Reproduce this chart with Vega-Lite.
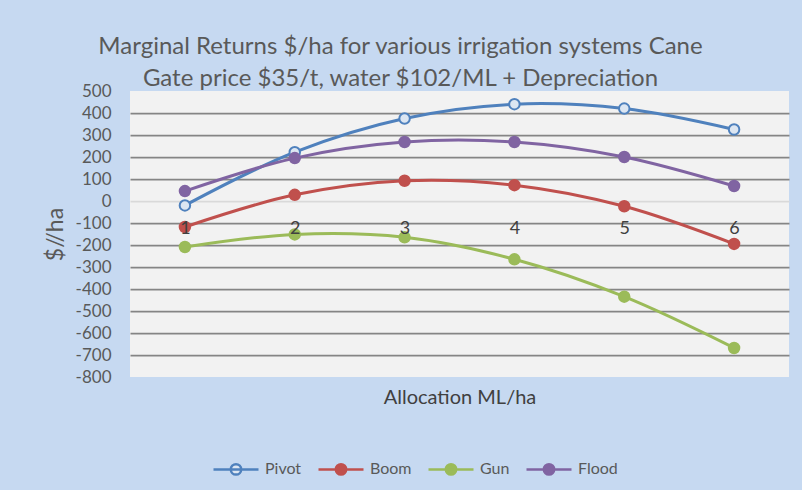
{
  "$schema": "https://vega.github.io/schema/vega-lite/v6.json",
  "width": 659,
  "height": 286,
  "autosize": {"type": "none"},
  "padding": {"left": 130, "top": 91, "right": 13, "bottom": 113},
  "background": "#C6D9F1",
  "title": {
    "text": ["Marginal Returns $/ha for various irrigation systems Cane", "Gate price $35/t, water $102/ML + Depreciation"],
    "fontSize": 24,
    "font": "Lato",
    "fontWeight": "normal",
    "color": "#595959",
    "anchor": "middle",
    "dx": -59,
    "offset": -9,
    "lineHeight": 32
  },
  "config": {
    "view": {"fill": "#F2F2F2", "stroke": null},
    "font": "Lato"
  },
  "data": {
    "values": [
      {"system": "Pivot", "alloc": "1", "value": -20},
      {"system": "Pivot", "alloc": "2", "value": 222},
      {"system": "Pivot", "alloc": "3", "value": 375},
      {"system": "Pivot", "alloc": "4", "value": 440},
      {"system": "Pivot", "alloc": "5", "value": 420},
      {"system": "Pivot", "alloc": "6", "value": 325},
      {"system": "Boom", "alloc": "1", "value": -118},
      {"system": "Boom", "alloc": "2", "value": 28},
      {"system": "Boom", "alloc": "3", "value": 92},
      {"system": "Boom", "alloc": "4", "value": 72},
      {"system": "Boom", "alloc": "5", "value": -24},
      {"system": "Boom", "alloc": "6", "value": -195},
      {"system": "Gun", "alloc": "1", "value": -209},
      {"system": "Gun", "alloc": "2", "value": -152},
      {"system": "Gun", "alloc": "3", "value": -165},
      {"system": "Gun", "alloc": "4", "value": -265},
      {"system": "Gun", "alloc": "5", "value": -435},
      {"system": "Gun", "alloc": "6", "value": -668},
      {"system": "Flood", "alloc": "1", "value": 45},
      {"system": "Flood", "alloc": "2", "value": 195},
      {"system": "Flood", "alloc": "3", "value": 268},
      {"system": "Flood", "alloc": "4", "value": 268},
      {"system": "Flood", "alloc": "5", "value": 200},
      {"system": "Flood", "alloc": "6", "value": 68}
    ]
  },
  "encoding": {
    "x": {
      "field": "alloc",
      "type": "ordinal",
      "scale": {"type": "point", "padding": 0.5},
      "axis": {
        "orient": "bottom",
        "offset": -176,
        "domain": false,
        "ticks": false,
        "tickSize": 0,
        "grid": false,
        "labelAngle": 0,
        "labelPadding": 27,
        "labelBaseline": "middle",
        "labelFontSize": 18,
        "labelColor": "#404040",
        "title": "Allocation ML/ha",
        "titleFontSize": 20,
        "titleFontWeight": "normal",
        "titleColor": "#404040",
        "titleY": 196,
        "titleBaseline": "middle",
        "zindex": 1
      }
    },
    "y": {
      "field": "value",
      "type": "quantitative",
      "scale": {"domain": [-800, 500], "nice": false, "zero": false},
      "axis": {
        "values": [-800, -700, -600, -500, -400, -300, -200, -100, 0, 100, 200, 300, 400, 500],
        "labelExpr": "'' + datum.value",
        "domain": false,
        "ticks": false,
        "labelPadding": 19,
        "labelFontSize": 17,
        "labelColor": "#595959",
        "title": "$//ha",
        "titleFontSize": 23,
        "titleFontWeight": "normal",
        "titleColor": "#595959",
        "titlePadding": 8,
        "grid": true,
        "gridColor": {"condition": {"test": "datum.value === 0", "value": "#D9D9D9"}, "value": "#858585"},
        "gridOpacity": {"condition": {"test": "datum.value === 500 || datum.value === -800", "value": 0}, "value": 1},
        "gridWidth": 1.75
      }
    },
    "stroke": {
      "field": "system",
      "type": "nominal",
      "scale": {"domain": ["Pivot", "Boom", "Gun", "Flood"], "range": ["#4F81BD", "#C0504D", "#9BBB59", "#8064A2"]},
      "legend": {
        "orient": "none",
        "legendX": 82,
        "legendY": 354,
        "direction": "horizontal",
        "title": null,
        "symbolType": "M-1,0H1M-0.23,0A0.23,0.23 0 1,0 0.23,0A0.23,0.23 0 1,0 -0.23,0",
        "symbolSize": 2025,
        "symbolStrokeWidth": 2.5,
        "labelFontSize": 16,
        "labelColor": "#595959",
        "labelOffset": 5,
        "columnPadding": 11
      }
    }
  },
  "layer": [
    {"mark": {"type": "line", "interpolate": "catmull-rom", "strokeWidth": 3}},
    {
      "mark": {"type": "point", "filled": true, "size": 110, "strokeWidth": 2, "opacity": 1},
      "encoding": {
        "fill": {
          "field": "system",
          "type": "nominal",
          "scale": {"domain": ["Pivot", "Boom", "Gun", "Flood"], "range": ["#DCE6F2", "#C0504D", "#9BBB59", "#8064A2"]},
          "legend": {
            "orient": "none",
            "legendX": 82,
            "legendY": 354,
            "direction": "horizontal",
            "title": null,
            "symbolType": "M-1,0H1M-0.23,0A0.23,0.23 0 1,0 0.23,0A0.23,0.23 0 1,0 -0.23,0",
            "symbolSize": 2025,
            "symbolStrokeWidth": 2.5,
            "labelFontSize": 16,
            "labelColor": "#595959",
            "labelOffset": 5,
            "columnPadding": 11
          }
        }
      }
    }
  ]
}
